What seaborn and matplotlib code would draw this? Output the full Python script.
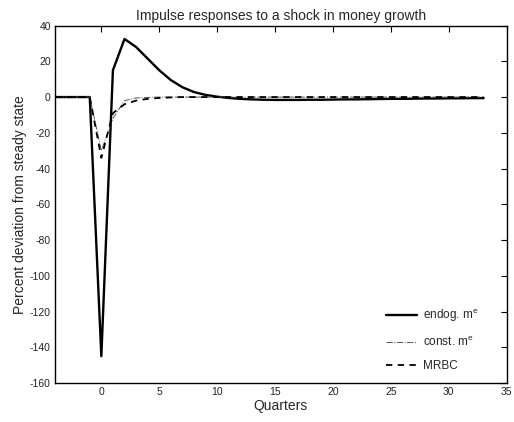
import numpy as np
import pandas as pd
import seaborn as sns
import matplotlib
matplotlib.use("Agg")
import matplotlib.pyplot as plt

quarters = list(range(-4, 34))
endog = [0, 0, 0, 0, -145, 15, 32.5, 28, 21.5, 15, 9.5, 5.5, 2.8, 1.2, 0.2, -0.5,
         -1.0, -1.3, -1.5, -1.6, -1.6, -1.6, -1.5, -1.5, -1.4, -1.3, -1.3, -1.2,
         -1.1, -1.0, -1.0, -0.9, -0.8, -0.8, -0.7, -0.7, -0.6, -0.6]
const = [0, 0, 0, 0, -30, -12, -2, -0.5, -0.2] + [0] * 29
mrbc = [0, 0, 0, 0, -34, -9, -4, -2, -1, -0.5, -0.2] + [0] * 27

sns.set_theme(style="white")
plt.rcParams['font.family'] = ['Liberation Sans', 'DejaVu Sans']
plt.rcParams['mathtext.default'] = 'regular'
plt.rcParams['axes.unicode_minus'] = False

fig = plt.figure(figsize=(5.14, 4.22), dpi=100)
ax = fig.add_axes([0.107, 0.0924, 0.879, 0.847])

df = pd.DataFrame({"q": quarters, "endog": endog, "const": const, "mrbc": mrbc})
sns.lineplot(data=df, x="q", y="endog", ax=ax, color="black", lw=1.7,
             label=r"endog. m$^{e}$")
sns.lineplot(data=df, x="q", y="const", ax=ax, color="#555555", lw=0.7,
             linestyle="-.", label=r"const. m$^{e}$")
sns.lineplot(data=df, x="q", y="mrbc", ax=ax, color="black", lw=1.3,
             linestyle=(0, (3.5, 3)), label="MRBC")

ax.set_xlim(-4, 35)
ax.set_ylim(-160, 40)
ax.set_xticks(range(0, 36, 5))
ax.set_yticks(range(-160, 41, 20))
ax.tick_params(direction="in", top=True, right=True, labelsize=7.5, length=4,
               width=0.8, colors="black", labelcolor="#222222", pad=3)
for s in ax.spines.values():
    s.set_color("black")
    s.set_linewidth(1.0)
ax.set_title("Impulse responses to a shock in money growth", fontsize=10, pad=4)
ax.set_xlabel("Quarters", fontsize=10, labelpad=1)
ax.set_ylabel("Percent deviation from steady state", fontsize=10, labelpad=2)
leg = ax.legend(loc="lower right", frameon=False, fontsize=8.5,
                handlelength=2.6, handletextpad=0.5, labelspacing=0.95,
                bbox_to_anchor=(0.96, 0.0))
fig.savefig("out.png", dpi=100)
